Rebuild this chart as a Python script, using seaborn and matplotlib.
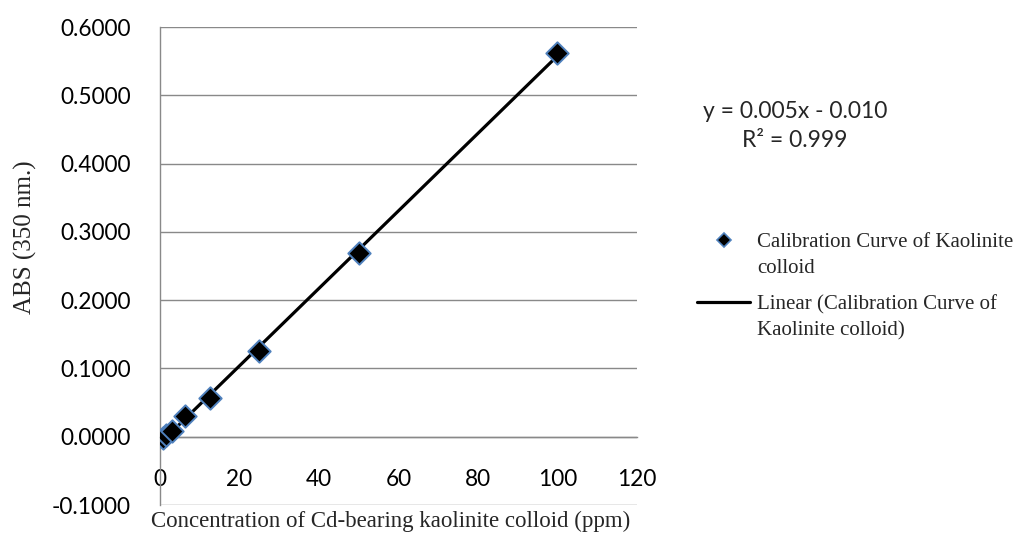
import matplotlib
matplotlib.use("Agg")
import matplotlib.pyplot as plt
from matplotlib.lines import Line2D
import seaborn as sns
import pandas as pd

# Calibration standards (ppm) and measured absorbance at 350 nm
concentration = [0.78, 1.56, 3.125, 6.25, 12.5, 25, 50, 100]
absorbance = [-0.002, 0.002, 0.008, 0.031, 0.057, 0.126, 0.269, 0.562]

x_ticks = [0, 20, 40, 60, 80, 100, 120]
y_ticks = [-0.1, 0.0, 0.1, 0.2, 0.3, 0.4, 0.5, 0.6]

series_label = ["Calibration Curve of Kaolinite", "colloid"]
fit_label = ["Linear (Calibration Curve of", "Kaolinite colloid)"]
equation_text = "y = 0.005x - 0.010"
r2_text = "R² = 0.999"

df = pd.DataFrame({"conc": concentration, "abs": absorbance})

sns.set_style("white")
plt.rcParams["font.family"] = ["Lato", "DejaVu Sans"]

fig = plt.figure(figsize=(10.2, 5.42), dpi=100)
ax = fig.add_axes([160 / 1020, 1 - 505 / 542, 477 / 1020, 478 / 542])

grid_color = "#898989"
edge_blue = "#4F81BD"

# Least-squares trend line
sns.regplot(data=df, x="conc", y="abs", ax=ax, scatter=False, ci=None,
            color="black", label="fit", line_kws={"lw": 2.3, "zorder": 3})

# Measured points
sns.scatterplot(data=df, x="conc", y="abs", ax=ax, marker="D", s=130,
                color="black", edgecolor=edge_blue, linewidth=1.4,
                label="points", zorder=4, legend=False)

ax.set_xlim(0, 120)
ax.set_ylim(-0.1, 0.6)
ax.set_xticks(x_ticks)
ax.set_yticks(y_ticks)
ax.set_xticklabels([str(v) for v in x_ticks])
ax.set_yticklabels([f"{v:.4f}" for v in y_ticks])

ax.grid(axis="y", color=grid_color, lw=1.0)
ax.grid(axis="x", visible=False)
ax.set_axisbelow(True)

for side in ["top", "right"]:
    ax.spines[side].set_visible(False)
ax.spines["left"].set_color(grid_color)
ax.spines["left"].set_linewidth(1.0)
ax.spines["bottom"].set_position(("data", 0))
ax.spines["bottom"].set_color(grid_color)
ax.spines["bottom"].set_linewidth(1.0)

ax.tick_params(axis="both", length=0, labelsize=16.3, colors="black")
ax.tick_params(axis="y", pad=21)
ax.tick_params(axis="x", pad=23)

serif = ["Liberation Serif", "DejaVu Serif"]
ax.set_xlabel("Concentration of Cd-bearing kaolinite colloid (ppm)",
              family=serif, fontsize=16.5)
ax.set_ylabel("ABS (350 nm.)", family=serif, fontsize=18)
ax.xaxis.set_label_coords(0.484, -0.012)
ax.yaxis.set_label_coords(-0.258, 0.56)

# Regression equation beside the plot
fig.text(795 / 1020, 1 - 112 / 542, equation_text, ha="center", va="center",
         fontsize=16.5)
fig.text(795 / 1020, 1 - 141 / 542, r2_text, ha="center", va="center",
         fontsize=16.5)

# Legend: one block per series, handle aligned with the first text line
blank = Line2D([], [], linestyle="none", marker="none")
marker_handle = Line2D([], [], linestyle="none", marker="D", markersize=6.8,
                       markerfacecolor="black", markeredgecolor=edge_blue,
                       markeredgewidth=1.2)
line_handle = Line2D([], [], color="black", lw=2.3)

legend_kw = dict(frameon=False, prop={"family": serif, "size": 15},
                 handlelength=2.55, handletextpad=0.33, labelspacing=0.3,
                 borderpad=0, borderaxespad=0, loc="center left",
                 bbox_transform=fig.transFigure)
leg1 = ax.legend([marker_handle, blank], series_label,
                 bbox_to_anchor=(697 / 1020, 1 - 255 / 542), **legend_kw)
ax.add_artist(leg1)
ax.legend([line_handle, blank], fit_label,
          bbox_to_anchor=(697 / 1020, 1 - 317.5 / 542), **legend_kw)

fig.savefig("out.png", dpi=100)
